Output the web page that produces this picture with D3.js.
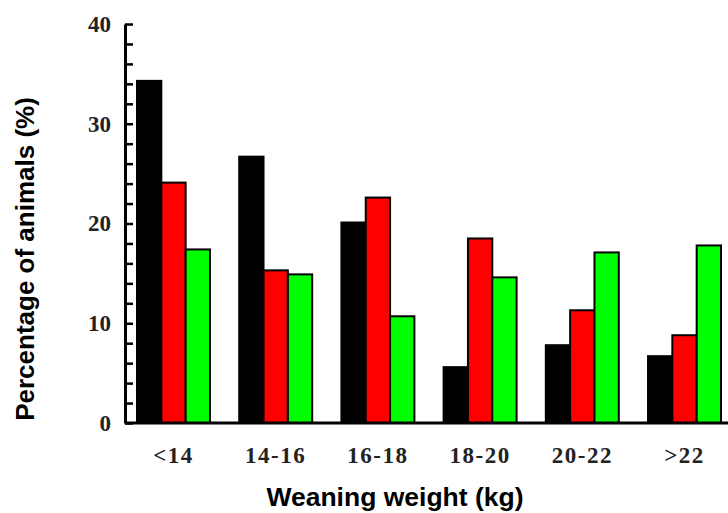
<!DOCTYPE html>
<html>
<head>
<meta charset="utf-8">
<script src="https://cdn.jsdelivr.net/npm/d3@7"></script>
<style>
  body { margin: 0; background: #fff; }
  svg { display: block; }
</style>
</head>
<body>
<svg id="chart" width="728" height="513"></svg>
<script>
var categories = ["<14", "14-16", "16-18", "18-20", "20-22", ">22"];
var seriesNames = ["black", "red", "green"];
var blackValues = [34.3, 26.7, 20.1, 5.6, 7.8, 6.7];
var redValues = [24.1, 15.3, 22.6, 18.5, 11.3, 8.8];
var greenValues = [17.4, 14.9, 10.7, 14.6, 17.1, 17.8];
var yTicks = [0, 2, 4, 6, 8, 10, 12, 14, 16, 18, 20, 22, 24, 26, 28, 30, 32, 34, 36, 38, 40];
var colors = {black: "#000000", red: "#ff0000", green: "#00ff00"};

var svg = d3.select("#chart");
var axisX = 125, baseY = 423, topY = 24;

var y = d3.scaleLinear().domain([0, 40]).range([baseY, topY]);

var x = d3.scaleBand()
    .domain(categories)
    .range([137, 721])
    .paddingInner(0.286)
    .paddingOuter(0)
    .align(0);

var xs = d3.scaleBand()
    .domain(seriesNames)
    .range([0, x.bandwidth()]);

var rows = categories.map(function(c, i) {
  return {cat: c, vals: [blackValues[i], redValues[i], greenValues[i]]};
});

var groups = svg.selectAll("g.grp")
    .data(rows)
    .enter()
    .append("g")
    .attr("class", "grp")
    .attr("transform", function(d) { return "translate(" + x(d.cat) + ",0)"; });

groups.selectAll("rect")
    .data(function(d) {
      return d.vals.map(function(v, i) { return {s: seriesNames[i], v: v}; });
    })
    .enter()
    .append("rect")
    .attr("x", function(d) { return xs(d.s); })
    .attr("y", function(d) { return y(d.v); })
    .attr("width", xs.bandwidth())
    .attr("height", function(d) { return baseY - y(d.v); })
    .attr("fill", function(d) { return colors[d.s]; })
    .attr("stroke", "#000")
    .attr("stroke-width", 2);

// x axis line
svg.append("line")
    .attr("x1", axisX).attr("x2", 728)
    .attr("y1", baseY).attr("y2", baseY)
    .attr("stroke", "#000").attr("stroke-width", 3);

// y axis, ticks pointing inward
var yAxis = d3.axisLeft(y)
    .tickValues(yTicks)
    .tickSizeInner(-8)
    .tickSizeOuter(0)
    .tickPadding(14)
    .tickFormat(function(d) { return d % 10 === 0 ? d : ""; });

var ga = svg.append("g")
    .attr("transform", "translate(" + axisX + ",0)")
    .call(yAxis);
ga.select(".domain").attr("stroke", "#000").attr("stroke-width", 3);
ga.selectAll(".tick line").attr("stroke", "#000").attr("stroke-width", 2.5);
ga.selectAll(".tick text")
    .attr("font-family", "'Liberation Serif', 'Times New Roman', serif")
    .attr("font-weight", "bold")
    .attr("font-size", 23)
    .attr("fill", "#222");

// category labels
svg.selectAll("text.cat")
    .data(categories)
    .enter()
    .append("text")
    .attr("class", "cat")
    .attr("x", function(d) { return x(d) + x.bandwidth() / 2; })
    .attr("y", 463)
    .attr("text-anchor", "middle")
    .attr("font-family", "'Liberation Serif', 'Times New Roman', serif")
    .attr("font-weight", "bold")
    .attr("font-size", 23)
    .attr("letter-spacing", 1.5)
    .attr("fill", "#222")
    .text(function(d) { return d; });

svg.append("text")
    .attr("x", 395)
    .attr("y", 506)
    .attr("text-anchor", "middle")
    .attr("font-family", "'Liberation Sans', Arial, sans-serif")
    .attr("font-weight", "bold")
    .attr("font-size", 26.5)
    .text("Weaning weight (kg)");

svg.append("text")
    .attr("transform", "translate(34,259) rotate(-90)")
    .attr("text-anchor", "middle")
    .attr("font-family", "'Liberation Sans', Arial, sans-serif")
    .attr("font-weight", "bold")
    .attr("font-size", 26)
    .text("Percentage of animals (%)");
</script>
</body>
</html>
